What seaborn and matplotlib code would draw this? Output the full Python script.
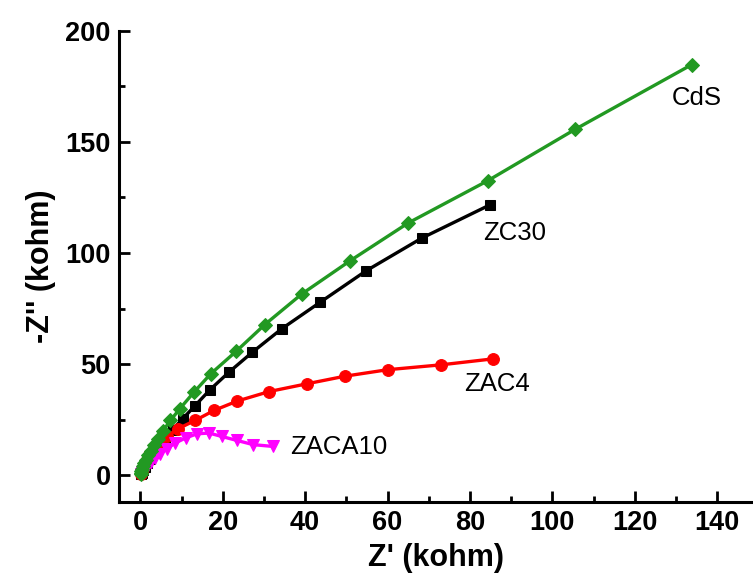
import matplotlib
matplotlib.use("Agg")
import matplotlib.pyplot as plt
import seaborn as sns
import pandas as pd
from matplotlib.ticker import MultipleLocator

# ---- data (kohm) ----
cds_x = [0.1, 0.15, 0.25, 0.4, 0.6, 0.9, 1.3, 1.8, 2.5, 3.2, 4.2, 5.5, 7.3, 9.6, 13.0, 17.1, 23.2, 30.2, 39.2, 50.9, 65.0, 84.3, 105.5, 133.8]
cds_y = [0.5, 1.0, 1.8, 2.8, 4.0, 5.5, 7.0, 9.0, 11.0, 13.5, 16.5, 20.0, 24.7, 30.0, 37.4, 45.7, 55.7, 67.8, 81.6, 96.5, 113.5, 132.5, 155.6, 184.7]

zc30_x = [0.1, 0.3, 0.6, 1.0, 1.6, 2.4, 3.3, 4.5, 6.0, 7.8, 10.3, 13.3, 16.9, 21.5, 27.2, 34.3, 43.6, 54.8, 68.3, 84.9]
zc30_y = [0.4, 1.2, 2.4, 3.8, 5.5, 7.5, 10.0, 13.0, 16.5, 20.5, 25.5, 31.4, 38.5, 46.4, 55.4, 65.9, 77.8, 92.0, 106.7, 121.7]

zac4_x = [0.1, 0.3, 0.6, 1.0, 1.5, 2.2, 3.2, 4.6, 6.5, 9.2, 13.3, 17.9, 23.5, 31.3, 40.5, 49.7, 60.0, 73.0, 85.7]
zac4_y = [0.8, 2.0, 3.5, 5.0, 7.0, 9.0, 11.5, 14.5, 17.5, 21.0, 24.7, 29.2, 33.4, 37.7, 41.2, 44.6, 47.5, 49.7, 52.4]

zaca10_x = [0.2, 0.4, 0.7, 1.2, 1.8, 2.6, 3.6, 4.8, 6.4, 8.4, 11.1, 13.8, 16.7, 19.7, 23.4, 27.4, 32.1]
zaca10_y = [0.4, 1.0, 2.0, 3.2, 4.5, 6.0, 7.8, 9.7, 12.0, 14.5, 16.9, 18.7, 19.0, 17.5, 15.7, 13.8, 13.0]

labels = ["ZC30", "ZAC4", "ZACA10", "CdS"]
label_pos_x = [90.9, 86.5, 48.2, 135.1]
label_pos_y = [109.1, 40.9, 12.6, 169.7]

sns.set_theme(style="ticks")
plt.rcParams["font.family"] = ["Liberation Sans", "DejaVu Sans"]
plt.rcParams["text.color"] = "black"
plt.rcParams["axes.labelcolor"] = "black"
plt.rcParams["xtick.color"] = "black"
plt.rcParams["ytick.color"] = "black"

fig = plt.figure(figsize=(7.53, 5.79), dpi=100)
ax = fig.add_axes([0.158, 0.133, 0.842, 0.814])

series = [
    (zc30_x, zc30_y, "black", "s", 7),
    (zac4_x, zac4_y, "#ff0000", "o", 8.5),
    (zaca10_x, zaca10_y, "#ff00ff", "v", 8.5),
    (cds_x, cds_y, "#229922", "D", 7.5),
]
for (xs, ys, col, mk, ms) in series:
    df = pd.DataFrame({"x": xs, "y": ys})
    sns.lineplot(data=df, x="x", y="y", sort=False, estimator=None, ax=ax,
                 color=col, marker=mk, markersize=ms, markeredgecolor=col,
                 linewidth=2.4)

for lab, lx, ly in zip(labels, label_pos_x, label_pos_y):
    ax.text(lx, ly, lab, ha="center", va="center", fontsize=18.5, color="black")

ax.set_xlim(-5.2, 148.7)
ax.set_ylim(-12, 200)
ax.xaxis.set_major_locator(MultipleLocator(20))
ax.xaxis.set_minor_locator(MultipleLocator(10))
ax.yaxis.set_major_locator(MultipleLocator(50))
ax.yaxis.set_minor_locator(MultipleLocator(25))
ax.tick_params(which="major", direction="in", length=8, width=2, labelsize=19.5,
               pad=6, colors="black")
ax.tick_params(which="minor", direction="in", length=4.5, width=2, colors="black")
for lab in ax.get_xticklabels() + ax.get_yticklabels():
    lab.set_fontweight("bold")

ax.set_xlabel("Z' (kohm)", fontsize=22, fontweight="bold", labelpad=5, color="black")
ax.set_ylabel("-Z'' (kohm)", fontsize=22, fontweight="bold", labelpad=7, color="black")

for s in ["top", "right"]:
    ax.spines[s].set_visible(False)
for s in ["left", "bottom"]:
    ax.spines[s].set_linewidth(2.2)
    ax.spines[s].set_color("black")

fig.savefig("out.png", dpi=100)
